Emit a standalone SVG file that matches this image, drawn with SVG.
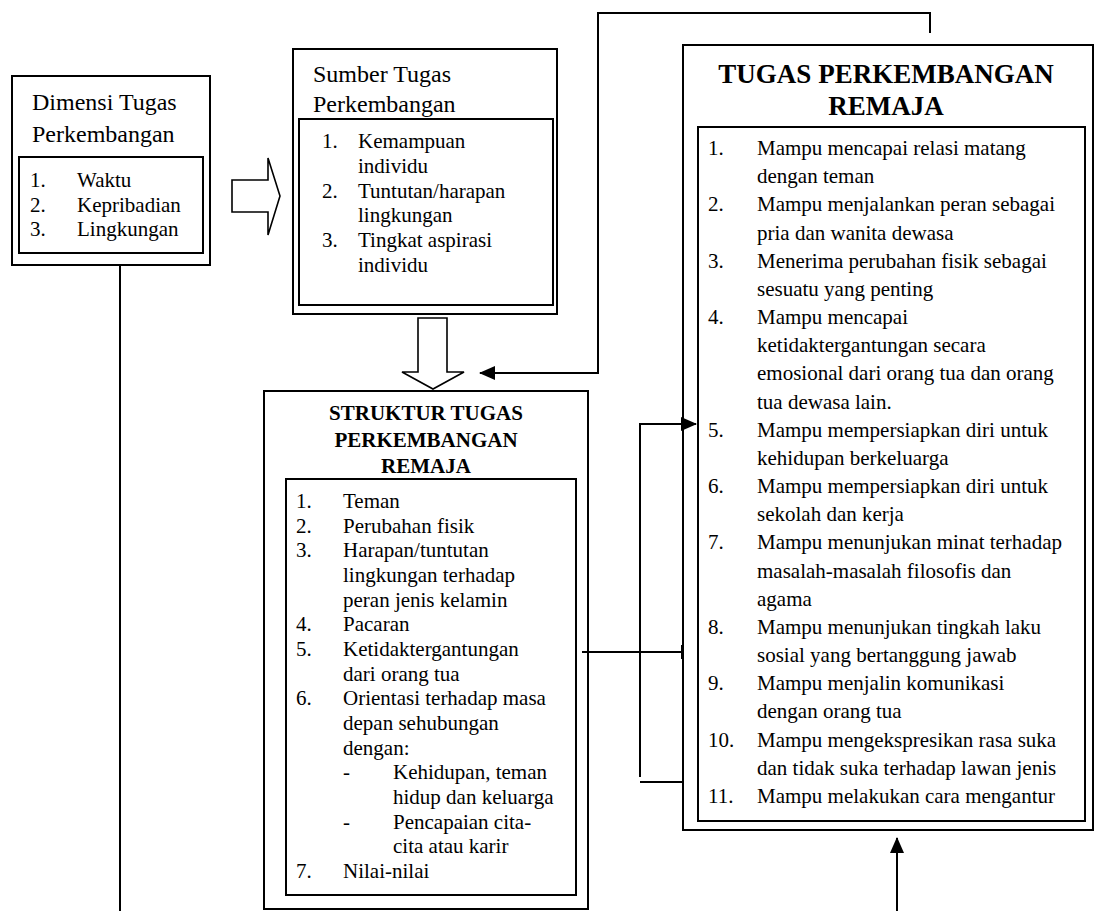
<svg xmlns="http://www.w3.org/2000/svg" width="1095" height="911" viewBox="0 0 1095 911">
<style>
.box{fill:#fff;stroke:#000;stroke-width:2}
.ln{fill:none;stroke:#000;stroke-width:2}
.blk{fill:#fff;stroke:#000;stroke-width:1.6;stroke-linejoin:miter}
text{font-family:"Liberation Serif","Times New Roman",serif;fill:#000}
.h{font-size:24px}
.t{font-size:21px}
.b{font-size:21px;font-weight:bold;text-anchor:middle}
.bb{font-size:27px;font-weight:bold;text-anchor:middle}
</style>
<defs>
<marker id="ah" viewBox="0 0 16 14" refX="15" refY="7" markerWidth="16" markerHeight="14" markerUnits="userSpaceOnUse" orient="auto">
<path d="M0,0 L16,7 L0,14 Z" fill="#000"/>
</marker>
<marker id="tick" viewBox="0 0 4 14" refX="2" refY="7" markerWidth="4" markerHeight="14" markerUnits="userSpaceOnUse" orient="auto">
<rect x="0" y="0" width="3" height="14" fill="#000"/>
</marker>
</defs>
<rect width="1095" height="911" fill="#fff"/>

<g id="dimensi">
<rect class="box" x="12" y="76" width="198" height="189"/>
<rect class="box" x="19" y="157" width="184" height="96"/>
<text class="h" x="32" y="110">Dimensi Tugas</text>
<text class="h" x="32" y="142">Perkembangan</text>
<text class="t" x="30" y="187">1.</text><text class="t" x="77" y="187">Waktu</text>
<text class="t" x="30" y="212">2.</text><text class="t" x="77" y="212">Kepribadian</text>
<text class="t" x="30" y="236">3.</text><text class="t" x="77" y="236">Lingkungan</text>
</g>

<g id="sumber">
<rect class="box" x="293" y="49" width="264" height="265"/>
<rect class="box" x="299" y="119" width="254" height="186"/>
<text class="h" x="313" y="82">Sumber Tugas</text>
<text class="h" x="313" y="112">Perkembangan</text>
<text class="t" x="322" y="148">1.</text><text class="t" x="358" y="148">Kemampuan</text>
<text class="t" x="358" y="172.8">individu</text>
<text class="t" x="322" y="197.6">2.</text><text class="t" x="358" y="197.6">Tuntutan/harapan</text>
<text class="t" x="358" y="222.4">lingkungan</text>
<text class="t" x="322" y="247.2">3.</text><text class="t" x="358" y="247.2">Tingkat aspirasi</text>
<text class="t" x="358" y="272">individu</text>
</g>

<g id="struktur">
<rect class="box" x="264" y="391" width="324" height="518"/>
<rect class="box" x="286" y="479" width="290" height="416"/>
<text class="b" x="426" y="420">STRUKTUR TUGAS</text>
<text class="b" x="426" y="447">PERKEMBANGAN</text>
<text class="b" x="426" y="473">REMAJA</text>
<text class="t" x="296" y="508">1.</text><text class="t" x="343" y="508">Teman</text>
<text class="t" x="296" y="532.7">2.</text><text class="t" x="343" y="532.7">Perubahan fisik</text>
<text class="t" x="296" y="557.3">3.</text><text class="t" x="343" y="557.3">Harapan/tuntutan</text>
<text class="t" x="343" y="582">lingkungan terhadap</text>
<text class="t" x="343" y="606.7">peran jenis kelamin</text>
<text class="t" x="296" y="631.3">4.</text><text class="t" x="343" y="631.3">Pacaran</text>
<text class="t" x="296" y="656">5.</text><text class="t" x="343" y="656">Ketidaktergantungan</text>
<text class="t" x="343" y="680.7">dari orang tua</text>
<text class="t" x="296" y="705.3">6.</text><text class="t" x="343" y="705.3">Orientasi terhadap masa</text>
<text class="t" x="343" y="730">depan sehubungan</text>
<text class="t" x="343" y="754.7">dengan:</text>
<text class="t" x="343" y="779.3">-</text><text class="t" x="393" y="779.3">Kehidupan, teman</text>
<text class="t" x="393" y="804">hidup dan keluarga</text>
<text class="t" x="343" y="828.7">-</text><text class="t" x="393" y="828.7">Pencapaian cita-</text>
<text class="t" x="393" y="853.3">cita atau karir</text>
<text class="t" x="296" y="878">7.</text><text class="t" x="343" y="878">Nilai-nilai</text>
</g>

<g id="tugas">
<rect class="box" x="683" y="45" width="410" height="785"/>
<rect class="box" x="698" y="127" width="387" height="694"/>
<text class="bb" x="886" y="83">TUGAS PERKEMBANGAN</text>
<text class="bb" x="886" y="115">REMAJA</text>
<text class="t" x="708" y="155">1.</text><text class="t" x="757" y="155">Mampu mencapai relasi matang</text>
<text class="t" x="757" y="183.2">dengan teman</text>
<text class="t" x="708" y="211.3">2.</text><text class="t" x="757" y="211.3">Mampu menjalankan peran sebagai</text>
<text class="t" x="757" y="239.5">pria dan wanita dewasa</text>
<text class="t" x="708" y="267.7">3.</text><text class="t" x="757" y="267.7">Menerima perubahan fisik sebagai</text>
<text class="t" x="757" y="295.9">sesuatu yang penting</text>
<text class="t" x="708" y="324">4.</text><text class="t" x="757" y="324">Mampu mencapai</text>
<text class="t" x="757" y="352.2">ketidaktergantungan secara</text>
<text class="t" x="757" y="380.4">emosional dari orang tua dan orang</text>
<text class="t" x="757" y="408.5">tua dewasa lain.</text>
<text class="t" x="708" y="436.7">5.</text><text class="t" x="757" y="436.7">Mampu mempersiapkan diri untuk</text>
<text class="t" x="757" y="464.9">kehidupan berkeluarga</text>
<text class="t" x="708" y="493">6.</text><text class="t" x="757" y="493">Mampu mempersiapkan diri untuk</text>
<text class="t" x="757" y="521.2">sekolah dan kerja</text>
<text class="t" x="708" y="549.4">7.</text><text class="t" x="757" y="549.4">Mampu menunjukan minat terhadap</text>
<text class="t" x="757" y="577.6">masalah-masalah filosofis dan</text>
<text class="t" x="757" y="605.7">agama</text>
<text class="t" x="708" y="633.9">8.</text><text class="t" x="757" y="633.9">Mampu menunjukan tingkah laku</text>
<text class="t" x="757" y="662.1">sosial yang bertanggung jawab</text>
<text class="t" x="708" y="690.2">9.</text><text class="t" x="757" y="690.2">Mampu menjalin komunikasi</text>
<text class="t" x="757" y="718.4">dengan orang tua</text>
<text class="t" x="708" y="746.6">10.</text><text class="t" x="757" y="746.6">Mampu mengekspresikan rasa suka</text>
<text class="t" x="757" y="774.7">dan tidak suka terhadap lawan jenis</text>
<text class="t" x="708" y="803">11.</text><text class="t" x="757" y="803">Mampu melakukan cara mengantur</text>
</g>

<g id="connectors">
<line class="ln" x1="120" y1="265" x2="120" y2="911"/>
<polyline class="ln" points="930,33 930,13 598,13 598,373 480,373" marker-end="url(#ah)"/>
<polyline class="ln" points="640,777 640,424 696,424" marker-end="url(#ah)"/>
<line class="ln" x1="640" y1="782" x2="683" y2="782"/>
<line class="ln" x1="582" y1="652" x2="683" y2="652" marker-end="url(#tick)"/>
<line class="ln" x1="897" y1="911" x2="897" y2="838" marker-end="url(#ah)"/>
<polygon id="block-right" class="blk" points="232,180 268,180 268,158 280,196 268,235 268,212 232,212"/>
<polygon id="block-down" class="blk" points="418,318 447,318 447,372 464,372 433,389 402,372 418,372"/>
</g>
</svg>
